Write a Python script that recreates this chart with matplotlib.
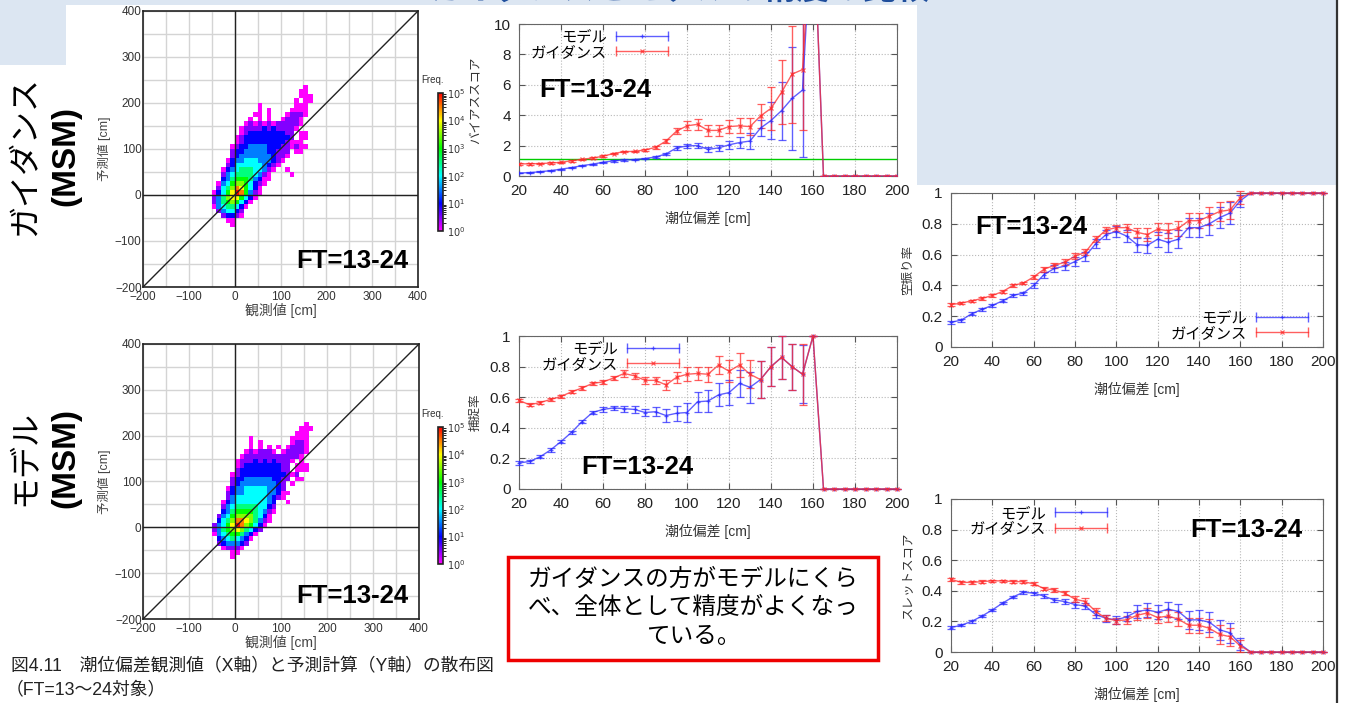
import numpy as np
import matplotlib
matplotlib.use('Agg')
import matplotlib.pyplot as plt
from matplotlib.colors import LogNorm, LinearSegmentedColormap
from matplotlib.lines import Line2D
from matplotlib.legend_handler import HandlerTuple, HandlerLine2D
from matplotlib.patches import Rectangle
from matplotlib.ticker import FormatStrFormatter, MultipleLocator

plt.rcParams['font.family'] = ['Liberation Sans', 'Noto Sans CJK JP']

W, H = 1346, 703

# ---- score data (x = 潮位偏差 [cm]) ----
surge = list(range(20, 201, 5))

bias_model = [0.20, 0.22, 0.28, 0.35, 0.45, 0.55, 0.68, 0.78, 0.90, 1.00,
              1.05, 1.08, 1.15, 1.25, 1.45, 1.85, 1.98, 2.00, 1.75, 1.85,
              2.05, 2.20, 2.30, 3.15, 3.65, 4.30, 5.10, 5.65, 18.0] + [0] * 8
bias_model_err = [0.03, 0.03, 0.03, 0.03, 0.03, 0.04, 0.04, 0.04, 0.04, 0.05,
                  0.05, 0.05, 0.05, 0.06, 0.08, 0.12, 0.15, 0.18, 0.18, 0.20,
                  0.28, 0.35, 0.50, 0.55, 1.20, 1.90, 3.40, 4.40, 0] + [0] * 8
bias_guid = [0.80, 0.80, 0.82, 0.85, 0.90, 1.00, 1.10, 1.18, 1.30, 1.48,
             1.60, 1.62, 1.72, 1.88, 2.30, 2.95, 3.30, 3.40, 3.00, 3.00,
             3.25, 3.30, 3.25, 3.95, 4.45, 5.50, 6.70, 7.00, 18.0] + [0] * 8
bias_guid_err = [0.05, 0.05, 0.05, 0.05, 0.05, 0.05, 0.05, 0.05, 0.05, 0.05,
                 0.05, 0.05, 0.05, 0.08, 0.15, 0.20, 0.30, 0.35, 0.35, 0.38,
                 0.45, 0.50, 0.55, 0.80, 1.40, 2.10, 3.20, 4.00, 0] + [0] * 8
bias_ref = 1.1

hit_model = [0.17, 0.18, 0.21, 0.255, 0.31, 0.37, 0.44, 0.50, 0.52, 0.53,
             0.525, 0.52, 0.50, 0.505, 0.48, 0.495, 0.50, 0.57, 0.575, 0.615,
             0.63, 0.69, 0.665, 0.715, 0.80, 0.86, 0.80, 0.75, 1.0] + [0] * 8
hit_model_err = [0.01, 0.01, 0.01, 0.01, 0.01, 0.01, 0.01, 0.01, 0.015, 0.015,
                 0.02, 0.02, 0.025, 0.03, 0.04, 0.05, 0.06, 0.065, 0.07, 0.075,
                 0.08, 0.09, 0.10, 0.12, 0.13, 0.14, 0.15, 0.19, 0] + [0] * 8
hit_guid = [0.58, 0.55, 0.565, 0.585, 0.605, 0.635, 0.66, 0.69, 0.70, 0.725,
            0.755, 0.74, 0.71, 0.71, 0.68, 0.73, 0.75, 0.755, 0.75, 0.81,
            0.77, 0.81, 0.75, 0.715, 0.80, 0.86, 0.80, 0.75, 1.0] + [0] * 8
hit_guid_err = [0.01, 0.01, 0.01, 0.01, 0.01, 0.01, 0.01, 0.01, 0.012, 0.015,
                0.02, 0.02, 0.025, 0.025, 0.03, 0.035, 0.045, 0.045, 0.05, 0.06,
                0.07, 0.08, 0.09, 0.12, 0.13, 0.14, 0.15, 0.20, 0] + [0] * 8

far_model = [0.16, 0.175, 0.215, 0.245, 0.27, 0.30, 0.335, 0.35, 0.40, 0.47,
             0.51, 0.525, 0.555, 0.59, 0.67, 0.73, 0.75, 0.72, 0.665, 0.66,
             0.70, 0.68, 0.70, 0.775, 0.775, 0.80, 0.84, 0.87, 0.95] + [1.0] * 8
far_model_err = [0.01, 0.01, 0.01, 0.01, 0.01, 0.01, 0.01, 0.01, 0.015, 0.02,
                 0.025, 0.025, 0.03, 0.03, 0.03, 0.03, 0.035, 0.04, 0.045, 0.05,
                 0.05, 0.06, 0.06, 0.06, 0.06, 0.07, 0.07, 0.07, 0.04] + [0] * 8
far_guid = [0.275, 0.285, 0.30, 0.315, 0.335, 0.36, 0.40, 0.415, 0.455, 0.505,
            0.53, 0.55, 0.59, 0.615, 0.70, 0.76, 0.775, 0.775, 0.745, 0.73,
            0.765, 0.755, 0.77, 0.82, 0.82, 0.85, 0.88, 0.89, 0.97] + [1.0] * 8
far_guid_err = [0.008, 0.008, 0.008, 0.008, 0.008, 0.008, 0.008, 0.008, 0.012, 0.015,
                0.015, 0.02, 0.02, 0.02, 0.02, 0.02, 0.02, 0.025, 0.03, 0.04,
                0.04, 0.05, 0.05, 0.05, 0.05, 0.06, 0.06, 0.06, 0.04] + [0] * 8

ts_model = [0.16, 0.175, 0.20, 0.235, 0.275, 0.32, 0.36, 0.39, 0.385, 0.365,
            0.34, 0.33, 0.31, 0.30, 0.245, 0.22, 0.21, 0.23, 0.265, 0.275,
            0.26, 0.28, 0.265, 0.21, 0.21, 0.195, 0.145, 0.125, 0.05] + [0] * 8
ts_model_err = [0.008, 0.008, 0.008, 0.008, 0.008, 0.008, 0.008, 0.008, 0.01, 0.012,
                0.015, 0.015, 0.02, 0.02, 0.025, 0.025, 0.025, 0.03, 0.04, 0.045,
                0.045, 0.05, 0.05, 0.06, 0.065, 0.065, 0.065, 0.065, 0.04] + [0] * 8
ts_guid = [0.475, 0.455, 0.455, 0.46, 0.465, 0.465, 0.46, 0.46, 0.445, 0.415,
           0.405, 0.385, 0.345, 0.33, 0.265, 0.22, 0.205, 0.21, 0.24, 0.255,
           0.225, 0.235, 0.215, 0.175, 0.175, 0.155, 0.115, 0.10, 0.04] + [0] * 8
ts_guid_err = [0.008, 0.008, 0.008, 0.008, 0.008, 0.008, 0.008, 0.008, 0.01, 0.012,
               0.015, 0.015, 0.02, 0.02, 0.02, 0.02, 0.02, 0.025, 0.03, 0.035,
               0.035, 0.04, 0.045, 0.05, 0.05, 0.06, 0.06, 0.06, 0.04] + [0] * 8

# ---- scatter frequency (10 cm bins, digit d -> 10**(d/2), 'A' -> 1e5) ----
# columns: observed -50..160, rows: predicted 230 (top) .. -70 (bottom)
obs_bins = list(range(-50, 171, 10))
pred_bins = list(range(-70, 241, 10))

guid_rows = [
    "....................0",
    "...................00",
    "...................000",
    "..................0.00",
    "..........0.......000",
    "..........0.0....0000",
    ".........00.0...01110",
    "........0.0.0..01110",
    ".......0101010111110",
    "......0111121211110",
    "......012222222211.00",
    ".....0122222222221.00",
    ".....012222222221000",
    "....01223333222110100",
    "....1223333322111.00",
    "....1233333332110",
    "...0233444333210",
    "...124444443210",
    "..023455544310..0",
    "..13455554310....0",
    "..23566653200",
    ".03467764210",
    ".1457986420",
    "02468A96310",
    "1357886420",
    "135676420",
    "03455420",
    ".134421",
    "..12210",
    "...00",
    "....0",
]

model_rows = [
    "",
    "....................0",
    "...................000",
    "..................000",
    "........0........0000",
    "........0.0......0110",
    "........0.0.0.0.01110",
    ".......0101110.011110",
    "......01111111111110",
    ".....0111212121110.0",
    ".....012222222211.000",
    ".....122222222211.000",
    "....012222222222101",
    "....1223333332211.00",
    "....123333333321.0",
    "...0233444443321",
    "...12334444433200",
    "...1344444443210",
    "..023444444432..0",
    "..134555554421",
    "..235666654310",
    ".134677775420",
    ".245799875310",
    "13468A976420",
    "13567875421",
    "0345665320",
    ".23454320",
    ".1233321",
    "..01110",
    "....00",
    "....0",
]

BLUE = '#2a2aff'
RED = '#ff2a2a'
freq_cmap = LinearSegmentedColormap.from_list(
    'freq', ['#ff00ff', '#0000ff', '#00ffff', '#00ff00', '#ffff00', '#ff0000'])


def px_axes(fig, l, t, r, b):
    return fig.add_axes([l / W, 1 - b / H, (r - l) / W, (b - t) / H])


def ftext(fig, x, y, s, **kw):
    return fig.text(x / W, 1 - y / H, s, **kw)


def freq_grid(rows):
    g = np.full((len(rows), len(obs_bins) - 1), np.nan)
    for i, r in enumerate(rows):
        for j, ch in enumerate(r):
            if ch != '.':
                g[i, j] = 10 ** (int(ch, 16) / 2)
    return g[::-1]


def scatter_panel(fig, ax, cax, rows):
    mesh = ax.pcolormesh(obs_bins, pred_bins, freq_grid(rows), cmap=freq_cmap,
                         norm=LogNorm(1, 1e5), zorder=2)
    ax.plot([-200, 400], [-200, 400], color='#222222', lw=1.0, zorder=3)
    ax.axhline(0, color='#222222', lw=1.0, zorder=3)
    ax.axvline(0, color='#222222', lw=1.0, zorder=3)
    ax.set_xlim(-200, 400)
    ax.set_ylim(-200, 400)
    ax.xaxis.set_major_locator(MultipleLocator(100))
    ax.yaxis.set_major_locator(MultipleLocator(100))
    ax.xaxis.set_minor_locator(MultipleLocator(50))
    ax.yaxis.set_minor_locator(MultipleLocator(50))
    ax.grid(True, which='both', color='#d4d4d4', lw=1.0, zorder=1)
    ax.set_axisbelow(True)
    ax.tick_params(which='both', length=0, labelsize=8.5, labelcolor='#333333')
    ax.tick_params(axis='x', pad=3)
    ax.tick_params(axis='y', pad=1)
    for s in ax.spines.values():
        s.set_color('#222222')
        s.set_linewidth(1.2)
    ax.set_xlabel('観測値 [cm]', fontsize=10, color='#444444', labelpad=0)
    ax.set_ylabel('予測値 [cm]', fontsize=9, color='#444444', labelpad=3)

    cb = fig.colorbar(mesh, cax=cax)
    cb.set_ticks([1, 10, 100, 1e3, 1e4, 1e5])
    cb.set_ticklabels(['$10^{%d}$' % k for k in range(6)])
    cb.ax.tick_params(length=0, labelsize=7, labelcolor='#333333', pad=3)
    cb.outline.set_linewidth(1.2)
    cb.outline.set_edgecolor('#222222')


def score_panel(ax, model, model_err, guid, guid_err, ylim, yticks, ylabel, clip=False):
    for vals, errs, c, m in ((model, model_err, BLUE, '+'), (guid, guid_err, RED, 'x')):
        ax.errorbar(surge, vals, yerr=errs, color=c, ecolor=c, marker=m, ms=3.5, mew=0.9,
                    lw=1.0, elinewidth=1.0, capsize=3, capthick=1.0, alpha=0.75,
                    clip_on=clip, zorder=3)
    ax.set_xlim(20, 200)
    ax.set_ylim(*ylim)
    ax.set_xticks(range(20, 201, 20))
    ax.set_yticks(yticks)
    ax.yaxis.set_major_formatter(FormatStrFormatter('%g'))
    ax.tick_params(direction='in', top=True, right=True, length=4, color='#555555',
                   labelsize=11, labelcolor='#222222', pad=6)
    ax.grid(True, ls=':', color='#b8b8b8', lw=0.8)
    for s in ax.spines.values():
        s.set_color('#666666')
    ax.set_xlabel('潮位偏差 [cm]', fontsize=10, color='#333333', labelpad=9)
    ax.set_ylabel(ylabel, fontsize=9, color='#333333')
    ax.yaxis.set_label_coords(-0.10, 0.5)


def add_legend(ax, **kw):
    handles, hmap = [], {}
    for c, m in ((BLUE, '+'), (RED, 'x')):
        caps = Line2D([], [], color=c, marker='|', ms=7, mew=1.0, lw=1.0, alpha=0.75)
        mid = Line2D([], [], color=c, marker=m, ms=3.5, mew=0.9, ls='none', alpha=0.75)
        hmap[caps] = HandlerLine2D(numpoints=2, marker_pad=0)
        hmap[mid] = HandlerLine2D(numpoints=1)
        handles.append((caps, mid))
    hmap[tuple] = HandlerTuple(ndivide=1)
    ax.legend(handles, ['モデル', 'ガイダンス'], handler_map=hmap, frameon=False,
              markerfirst=False, handlelength=3.4, fontsize=11, labelspacing=0.1,
              borderpad=0, borderaxespad=0, handletextpad=0.6, **kw)


fig = plt.figure(figsize=(W / 100, H / 100), dpi=100)

# slide background pieces
for (l, t, r, b) in [(0, 0, 66, 65), (66, 0, 917, 5), (917, 0, 1336, 185)]:
    fig.patches.append(Rectangle((l / W, 1 - b / H), (r - l) / W, (b - t) / H,
                                 transform=fig.transFigure, facecolor='#dce6f2',
                                 edgecolor='none', zorder=-2))
fig.add_artist(Line2D([1337 / W, 1337 / W], [0, 1], color='#333333', lw=1.6))
ftext(fig, 680, -10, 'ガイダンスとモデルの精度の比較', fontsize=24, fontweight='bold',
      color='#1f4e9c', ha='center', va='center')

# scatter panels
ax_s1 = px_axes(fig, 143, 11, 418, 287)
cax1 = px_axes(fig, 438, 93, 443, 231)
scatter_panel(fig, ax_s1, cax1, guid_rows)
ax_s2 = px_axes(fig, 143, 344, 419, 619)
cax2 = px_axes(fig, 438, 427, 443, 564)
scatter_panel(fig, ax_s2, cax2, model_rows)
ftext(fig, 432, 80, 'Freq.', fontsize=7, color='#333333', ha='center', va='center')
ftext(fig, 432, 414, 'Freq.', fontsize=7, color='#333333', ha='center', va='center')

for cy, name in ((156, 'ガイダンス'), (458, 'モデル')):
    ftext(fig, 26, cy, name, fontsize=23, rotation=90, ha='center', va='center')
    ftext(fig, 66, cy, '(MSM)', fontsize=24, fontweight='bold', rotation=90,
          ha='center', va='center')

# score panels
ax_b = px_axes(fig, 519, 24, 897, 176)
score_panel(ax_b, bias_model, bias_model_err, bias_guid, bias_guid_err,
            (0, 10), range(0, 11, 2), 'バイアススコア', clip=True)
ax_b.axhline(bias_ref, color='#00cc00', lw=1.0, zorder=2)
add_legend(ax_b, loc='upper left', bbox_to_anchor=(0.03, 0.96))

ax_h = px_axes(fig, 519, 336, 897, 489)
score_panel(ax_h, hit_model, hit_model_err, hit_guid, hit_guid_err,
            (0, 1), np.arange(0, 1.01, 0.2), '捕捉率')
add_legend(ax_h, loc='upper left', bbox_to_anchor=(0.06, 0.96))

ax_f = px_axes(fig, 951, 193, 1323, 347)
score_panel(ax_f, far_model, far_model_err, far_guid, far_guid_err,
            (0, 1), np.arange(0, 1.01, 0.2), '空振り率')
add_legend(ax_f, loc='lower right', bbox_to_anchor=(0.96, 0.04))

ax_t = px_axes(fig, 951, 499, 1323, 652)
score_panel(ax_t, ts_model, ts_model_err, ts_guid, ts_guid_err,
            (0, 1), np.arange(0, 1.01, 0.2), 'スレットスコア')
add_legend(ax_t, loc='upper left', bbox_to_anchor=(0.05, 0.95))

# FT labels
for x, y in ((352, 261), (352, 596), (595, 90), (637, 467), (1031, 227), (1246, 530)):
    ftext(fig, x, y, 'FT=13-24', fontsize=18.5, fontweight='bold', ha='center',
          va='center', zorder=5)

# comment box
fig.patches.append(Rectangle((508 / W, 1 - 660 / H), 370 / W, 103 / H,
                             transform=fig.transFigure, facecolor='white',
                             edgecolor='#ee0000', lw=2.5, zorder=4))
for y, line in ((580, 'ガイダンスの方がモデルにくら'), (608, 'べ、全体として精度がよくなっ'),
                (637, 'ている。')):
    ftext(fig, 693, y, line, fontsize=17, ha='center', va='center', zorder=5)

# caption
ftext(fig, 11, 667, '図4.11　潮位偏差観測値（X軸）と予測計算（Y軸）の散布図', fontsize=12.8,
      color='#222222', va='center')
ftext(fig, 6, 690, '（FT=13～24対象）', fontsize=12.8, color='#222222', va='center')

fig.savefig('out.png', dpi=100)
